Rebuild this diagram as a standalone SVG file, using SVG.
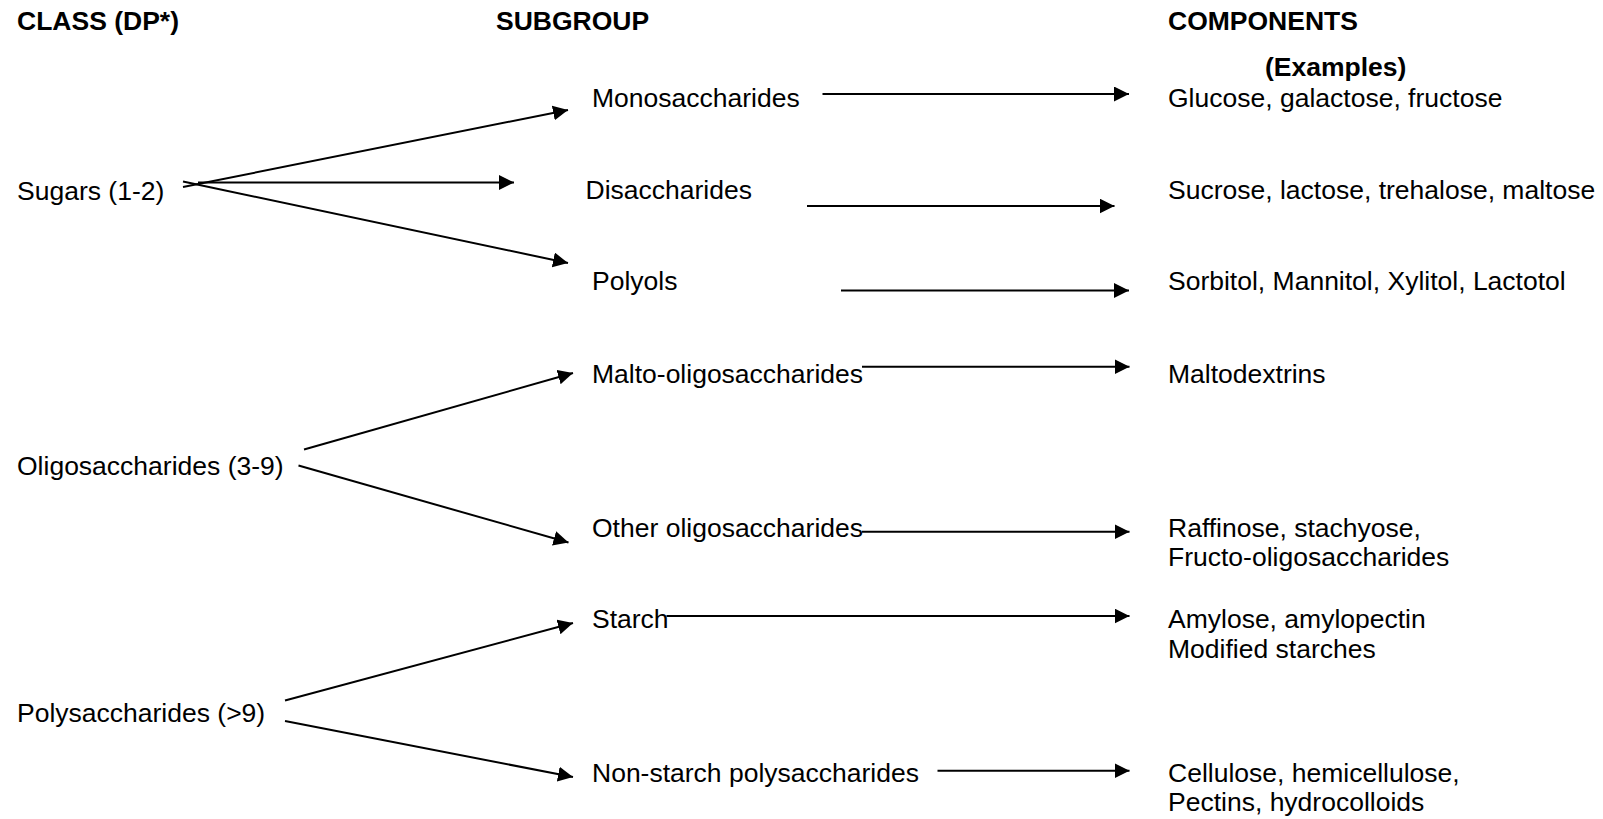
<svg xmlns="http://www.w3.org/2000/svg" width="1603" height="819" viewBox="0 0 1603 819">
<style>
text{font-family:"Liberation Sans",Arial,sans-serif;font-size:26.5px;fill:#000}
.h{font-weight:bold}
.c line{stroke:#000;stroke-width:2;fill:none;marker-end:url(#ah)}
</style>
<defs>
<marker id="ah" markerUnits="userSpaceOnUse" markerWidth="16" markerHeight="16" refX="15" refY="7.5" orient="auto">
<path d="M0,0 L15,7.5 L0,15 z" fill="#000"/>
</marker>
</defs>
<rect width="1603" height="819" fill="#fff"/>
<g id="headers">
<text class="h" x="17" y="30">CLASS (DP*)</text>
<text class="h" x="496" y="30">SUBGROUP</text>
<text class="h" x="1168" y="30">COMPONENTS</text>
<text class="h" x="1265" y="76">(Examples)</text>
</g>
<g id="class-sugars"><text x="17" y="199.5">Sugars (1-2)</text></g>
<g id="class-oligo"><text x="17" y="475">Oligosaccharides (3-9)</text></g>
<g id="class-poly"><text x="17" y="721.5">Polysaccharides (&gt;9)</text></g>
<g id="sub-mono"><text x="592" y="106.7">Monosaccharides</text></g>
<g id="sub-di"><text x="585.5" y="198.5">Disaccharides</text></g>
<g id="sub-polyols"><text x="592" y="290">Polyols</text></g>
<g id="sub-malto"><text x="592" y="382.5">Malto-oligosaccharides</text></g>
<g id="sub-other"><text x="592" y="536.7">Other oligosaccharides</text></g>
<g id="sub-starch"><text x="592" y="628.3">Starch</text></g>
<g id="sub-nsp"><text x="592" y="781.7">Non-starch polysaccharides</text></g>
<g id="comp-mono"><text x="1168" y="106.7">Glucose, galactose, fructose</text></g>
<g id="comp-di"><text x="1168" y="199">Sucrose, lactose, trehalose, maltose</text></g>
<g id="comp-polyols"><text x="1168" y="290">Sorbitol, Mannitol, Xylitol, Lactotol</text></g>
<g id="comp-malto"><text x="1168" y="382.7">Maltodextrins</text></g>
<g id="comp-other"><text x="1168" y="536.7">Raffinose, stachyose,</text><text x="1168" y="566">Fructo-oligosaccharides</text></g>
<g id="comp-starch"><text x="1168" y="628.3">Amylose, amylopectin</text><text x="1168" y="658.3">Modified starches</text></g>
<g id="comp-nsp"><text x="1168" y="781.7">Cellulose, hemicellulose,</text><text x="1168" y="810.7">Pectins, hydrocolloids</text></g>
<g id="connectors" class="c">
<line x1="183" y1="187" x2="568" y2="110"/>
<line x1="198" y1="182.5" x2="514" y2="182.5"/>
<line x1="183" y1="181.5" x2="568" y2="263"/>
<line x1="304" y1="449.5" x2="573" y2="373"/>
<line x1="298.5" y1="465.5" x2="568.5" y2="542.5"/>
<line x1="285" y1="700.5" x2="573" y2="623"/>
<line x1="285" y1="721" x2="573" y2="777"/>
<line x1="822.5" y1="94" x2="1129" y2="94"/>
<line x1="807" y1="206" x2="1114.5" y2="206"/>
<line x1="841" y1="290.5" x2="1129" y2="290.5"/>
<line x1="862" y1="366.7" x2="1129.5" y2="366.7"/>
<line x1="862" y1="531.7" x2="1129.5" y2="531.7"/>
<line x1="666.5" y1="616" x2="1129.5" y2="616"/>
<line x1="937.5" y1="770.7" x2="1129.5" y2="770.7"/>
</g>
</svg>
